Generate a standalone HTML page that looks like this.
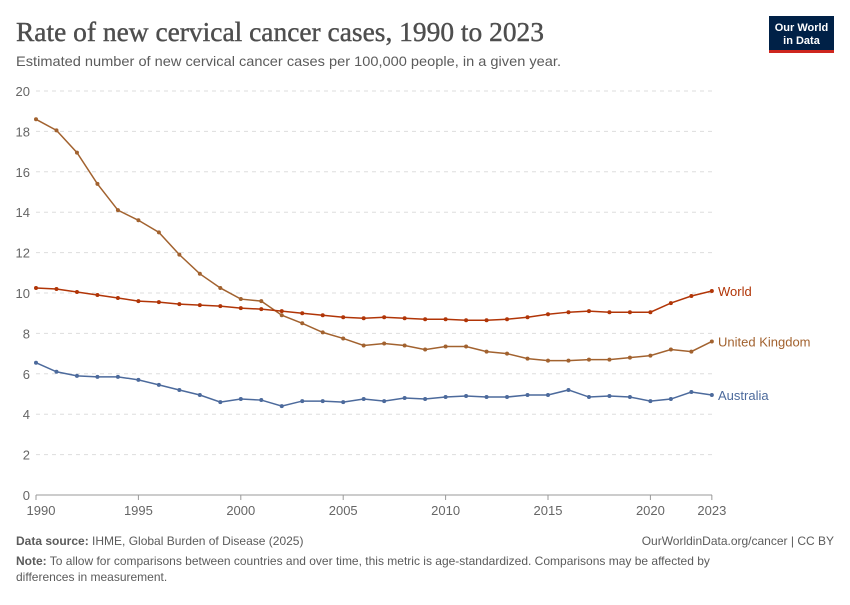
<!DOCTYPE html>
<html><head><meta charset="utf-8"><style>
body{margin:0;background:#fff;width:850px;height:600px;overflow:hidden;font-family:"Liberation Sans",sans-serif}
</style></head><body>
<svg id="s" width="850" height="600" xmlns="http://www.w3.org/2000/svg" font-family="Liberation Sans, sans-serif">
<text x="16" y="41" font-family="Liberation Serif, serif" font-size="27" fill="#4e4e4e" textLength="528" lengthAdjust="spacingAndGlyphs" stroke="#4e4e4e" stroke-width="0.4">Rate of new cervical cancer cases, 1990 to 2023</text>
<text x="16" y="66" font-size="14" fill="#5b5b5b" textLength="545" lengthAdjust="spacingAndGlyphs">Estimated number of new cervical cancer cases per 100,000 people, in a given year.</text>
<rect x="769" y="16" width="65" height="36" fill="#002147"/>
<rect x="769" y="50" width="65" height="3" fill="#ce261e"/>
<text x="801.5" y="31" font-size="11" font-weight="bold" fill="#fff" text-anchor="middle">Our World</text>
<text x="801.5" y="44" font-size="11" font-weight="bold" fill="#fff" text-anchor="middle">in Data</text>
<g id="g"></g>
<text x="16" y="545" font-size="12" fill="#5b5b5b"><tspan font-weight="bold">Data source:</tspan> IHME, Global Burden of Disease (2025)</text>
<text x="834" y="545" font-size="12" fill="#5b5b5b" text-anchor="end">OurWorldinData.org/cancer | CC BY</text>
<text x="16" y="565" font-size="12" fill="#5b5b5b"><tspan font-weight="bold">Note:</tspan> To allow for comparisons between countries and over time, this metric is age-standardized. Comparisons may be affected by</text>
<text x="16" y="581" font-size="12" fill="#5b5b5b">differences in measurement.</text>
</svg>
<script>
const g=document.getElementById('g');let h='';
const X=y=>36+(y-1990)*20.48, Y=v=>495-v*20.2;
for(let v=0;v<=20;v+=2){const y=Y(v);
if(v>0)h+=`<line x1="36" x2="712" y1="${y}" y2="${y}" stroke="#ddd" stroke-dasharray="4,4"/>`;
h+=`<text x="30" y="${y+5}" font-size="13" fill="#666" text-anchor="end">${v}</text>`;}
h+=`<line x1="36" x2="712" y1="495" y2="495" stroke="#999"/>`;
[1990,1995,2000,2005,2010,2015,2020,2023].forEach(yr=>{const x=X(yr);
h+=`<line x1="${x}" x2="${x}" y1="495" y2="500" stroke="#999"/><text x="${yr==1990?x+5:x}" y="515" font-size="13" fill="#666" text-anchor="middle">${yr}</text>`;});
const S=[
["#a2622f","United Kingdom",[18.6,18.05,16.95,15.4,14.1,13.6,13.0,11.9,10.95,10.25,9.7,9.6,8.9,8.5,8.05,7.75,7.4,7.5,7.4,7.2,7.35,7.35,7.1,7.0,6.75,6.65,6.65,6.7,6.7,6.8,6.9,7.2,7.1,7.6]],
["#b13507","World",[10.25,10.2,10.05,9.9,9.75,9.6,9.55,9.45,9.4,9.35,9.25,9.2,9.1,9.0,8.9,8.8,8.75,8.8,8.75,8.7,8.7,8.65,8.65,8.7,8.8,8.95,9.05,9.1,9.05,9.05,9.05,9.5,9.85,10.1]],
["#4c6a9c","Australia",[6.55,6.1,5.9,5.85,5.85,5.7,5.45,5.2,4.95,4.6,4.75,4.7,4.4,4.65,4.65,4.6,4.75,4.65,4.8,4.75,4.85,4.9,4.85,4.85,4.95,4.95,5.2,4.85,4.9,4.85,4.65,4.75,5.1,4.95]]];
S.forEach(([c,n,d])=>{const p=d.map((v,i)=>X(1990+i)+','+Y(v));
h+=`<polyline points="${p.join(' ')}" fill="none" stroke="${c}" stroke-width="1.5"/>`;
d.forEach((v,i)=>h+=`<circle cx="${X(1990+i)}" cy="${Y(v)}" r="2" fill="${c}"/>`);
h+=`<text x="718" y="${Y(d[33])+5}" font-size="13" fill="${c}">${n}</text>`;});
g.innerHTML=h;
</script>
</body></html>
